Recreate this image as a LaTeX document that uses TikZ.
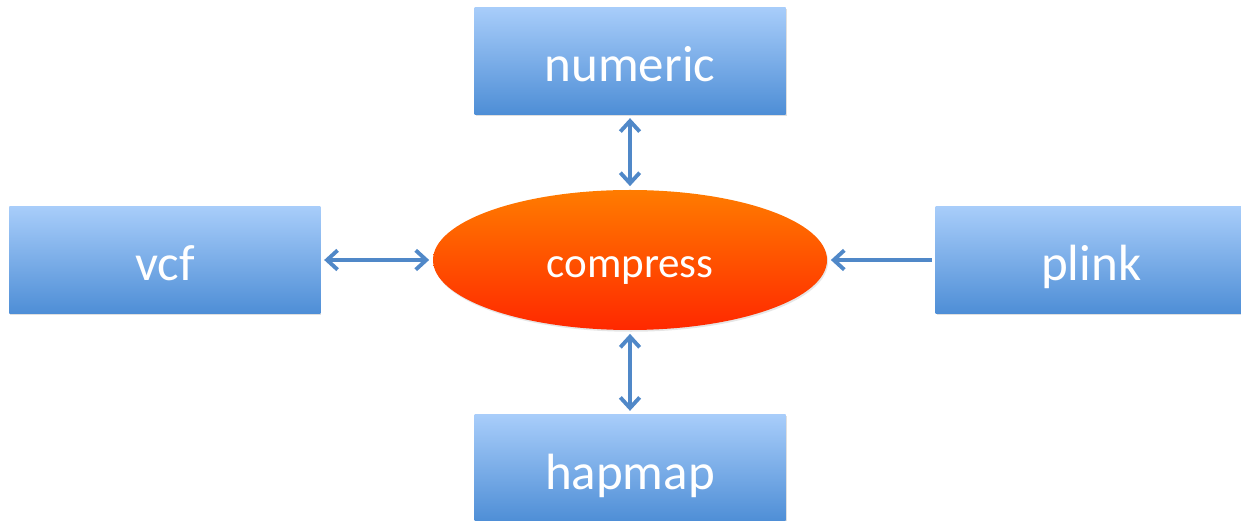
\documentclass[tikz,border=0pt]{standalone}
\usepackage{fontspec}
\setmainfont{Carlito}
\usepackage{tikz}
\usetikzlibrary{shapes, shapes.geometric, arrows.meta, positioning, shadows}
\definecolor{boxtop}{HTML}{A8CDFA}
\definecolor{boxbottom}{HTML}{4E8ED6}
\definecolor{elltop}{HTML}{FF7C00}
\definecolor{ellbottom}{HTML}{FF2800}
\definecolor{linkblue}{HTML}{5088C8}
\tikzset{
    % Blue format boxes and the orange hub
    format/.style = {rectangle, minimum width=6.22cm, minimum height=2.14cm, text centered, text height=23.8pt, text depth=0pt, top color=boxtop, bottom color=boxbottom, text=white, font=\fontsize{29}{31}\selectfont, drop shadow={opacity=0.25, shadow xshift=0.6pt, shadow yshift=-1pt}},
    hub/.style = {ellipse, minimum width=7.88cm, minimum height=2.8cm, inner sep=0pt, text centered, text height=20.4pt, text depth=0pt, top color=elltop, bottom color=ellbottom, text=white, font=\fontsize{24.5}{26}\selectfont, drop shadow={opacity=0.2, shadow xshift=0.6pt, shadow yshift=-1pt}},
    link/.style = {draw=linkblue, line width=2.2pt, shorten >=2pt, shorten <=2pt, >={Straight Barb[length=6pt, width=11pt]}}
}
\begin{document}
\begin{tikzpicture}
\useasboundingbox (0,0) rectangle (24.82,10.42);

% Nodes
\node[hub] (compress) at (12.6,5.22) {compress};
\node[format, above=1.5cm of compress] (numeric) {numeric};
\node[format, below=1.68cm of compress] (hapmap) {hapmap};
\node[format, left=2.24cm of compress] (vcf) {vcf};
\node[format, right=2.16cm of compress] (plink) {plink};

% Arrows
\draw[link, <->] (numeric) -- (compress);
\draw[link, <->] (compress) -- (hapmap);
\draw[link, <->] (vcf) -- (compress);
\draw[link, ->] (plink) -- (compress);

\end{tikzpicture}
\end{document}
